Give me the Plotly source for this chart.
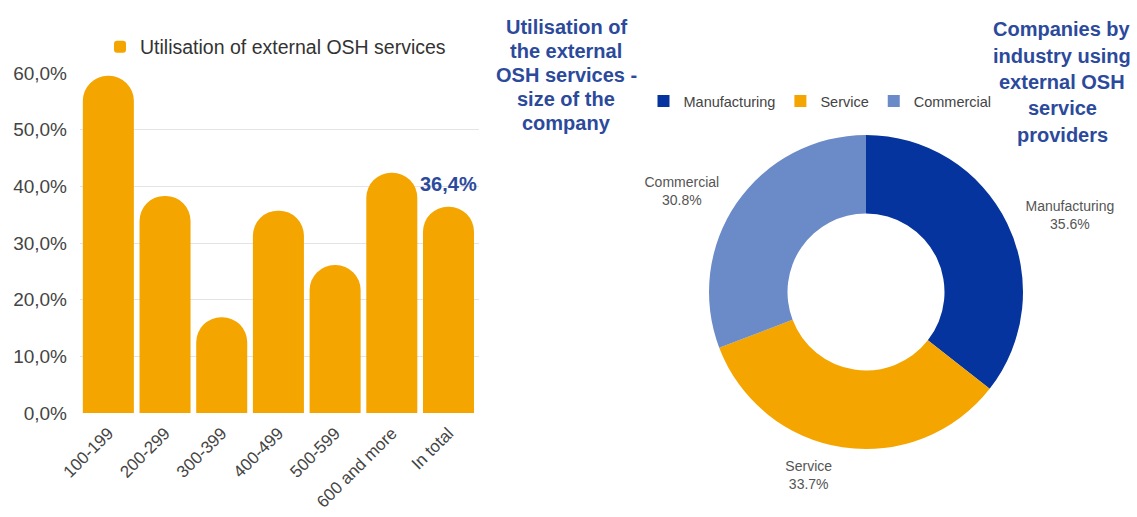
import plotly.graph_objects as go

# ---------------- data ----------------
size_categories = ["100-199", "200-299", "300-399", "400-499", "500-599", "600 and more", "In total"]
utilisation_pct = [59.5, 38.3, 16.9, 35.7, 26.1, 42.4, 36.4]
bar_series_name = "Utilisation of external OSH services"
total_label = "36,4%"

y_tick_values = [0, 10, 20, 30, 40, 50, 60]
y_tick_labels = ["0,0%", "10,0%", "20,0%", "30,0%", "40,0%", "50,0%", "60,0%"]

industry_labels = ["Manufacturing", "Service", "Commercial"]
industry_pct = [35.6, 33.7, 30.8]
industry_pct_text = [f"{v:.1f}%" for v in industry_pct]

middle_title_lines = ["Utilisation of", "the external", "OSH services -", "size of the", "company"]
right_title_lines = ["Companies by", "industry using", "external OSH", "service", "providers"]

# ---------------- style ----------------
W, H = 1137, 517
ORANGE = "#F4A500"
DARK_BLUE = "#06349E"
LIGHT_BLUE = "#6A8AC8"
TITLE_BLUE = "#2C4A9C"
FONT = "Liberation Sans, Arial, sans-serif"


def px_x(x):
    return x / W


def px_y(y):
    return (H - y) / H


fig = go.Figure()

fig.add_trace(go.Bar(
    x=size_categories,
    y=utilisation_pct,
    name=bar_series_name,
    marker=dict(color=ORANGE, cornerradius="50%", line=dict(width=0)),
    legend="legend",
    showlegend=True,
    hoverinfo="x+y",
))

# visible donut
fig.add_trace(go.Pie(
    labels=industry_labels,
    values=industry_pct,
    hole=0.5,
    sort=False,
    direction="clockwise",
    rotation=0,
    marker=dict(colors=[DARK_BLUE, ORANGE, LIGHT_BLUE], line=dict(color="white", width=0)),
    textposition="none",
    domain=dict(x=[px_x(709), px_x(1023)], y=[px_y(449), px_y(135)]),
    legend="legend2",
    showlegend=True,
))

# transparent, slightly larger ring that only carries the outside slice labels
fig.add_trace(go.Pie(
    labels=industry_labels,
    values=industry_pct,
    text=industry_pct_text,
    hole=0.9,
    sort=False,
    direction="clockwise",
    rotation=0,
    marker=dict(colors=["rgba(0,0,0,0)"] * 3, line=dict(width=0)),
    textposition="outside",
    texttemplate="%{label}<br>%{text}",
    textfont=dict(size=14, color="#555555", family=FONT),
    domain=dict(x=[px_x(866 - 168), px_x(866 + 168)], y=[px_y(292 + 168), px_y(292 - 168)]),
    showlegend=False,
    hoverinfo="skip",
))

annotations = []
annotations.append(dict(
    x=size_categories[-1], y=utilisation_pct[-1], xref="x", yref="y",
    text=f"<b>{total_label}</b>", showarrow=False, yanchor="bottom", yshift=10,
    font=dict(size=20, color=TITLE_BLUE, family=FONT),
))

for i, line in enumerate(middle_title_lines):
    annotations.append(dict(
        x=px_x(566), y=px_y(27 + i * 24), xref="paper", yref="paper",
        text=f"<b>{line}</b>", showarrow=False, xanchor="center", yanchor="middle",
        font=dict(size=20, color=TITLE_BLUE, family=FONT),
    ))
for i, line in enumerate(right_title_lines):
    annotations.append(dict(
        x=px_x(1062), y=px_y(29 + i * 26.5), xref="paper", yref="paper",
        text=f"<b>{line}</b>", showarrow=False, xanchor="center", yanchor="middle",
        font=dict(size=20, color=TITLE_BLUE, family=FONT),
    ))

fig.update_layout(
    width=W, height=H,
    margin=dict(l=0, r=0, t=0, b=0, autoexpand=False),
    paper_bgcolor="white", plot_bgcolor="white",
    separators=", ",
    showlegend=True,
    font=dict(family=FONT, color="#444444"),
    bargap=0.1,
    xaxis=dict(
        domain=[px_x(80), px_x(479)],
        tickangle=-45, tickfont=dict(size=17, color="#444444"),
        showgrid=False, showline=False, ticks="", zeroline=False, automargin=False,
        ticklabelstandoff=6,
    ),
    yaxis=dict(
        domain=[px_y(413), px_y(73)],
        range=[0, 60],
        tickvals=y_tick_values, ticktext=y_tick_labels,
        tickfont=dict(size=19, color="#444444"),
        gridcolor="#E4E4E4", gridwidth=1, zeroline=False, showline=False,
        ticks="", ticklabelstandoff=12, automargin=False,
    ),
    legend=dict(
        orientation="h", x=px_x(100), y=px_y(47), xanchor="left", yanchor="middle",
        font=dict(size=19.5, color="#333333", family=FONT), bgcolor="rgba(0,0,0,0)",
    ),
    legend2=dict(
        orientation="h", x=px_x(820), y=px_y(101), xanchor="center", yanchor="middle",
        font=dict(size=14.5, color="#444444", family=FONT), bgcolor="rgba(0,0,0,0)",
    ),
    annotations=annotations,
)

fig.write_html("out.html")
